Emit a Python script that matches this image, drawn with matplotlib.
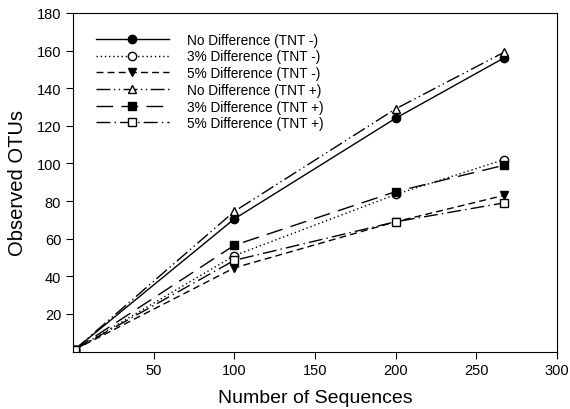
import matplotlib
matplotlib.use("Agg")
import matplotlib.pyplot as plt

plt.rcParams['font.family'] = ['Liberation Sans', 'DejaVu Sans']

x = [1, 100, 200, 267]
no_diff_minus = [1, 70.5, 124, 156]
diff3_minus = [1, 51, 83.5, 102]
diff5_minus = [1, 44.5, 69, 83]
no_diff_plus = [1, 74.5, 129, 159]
diff3_plus = [1, 56.5, 85, 99]
diff5_plus = [1, 48.5, 69, 79]

labels = ["No Difference (TNT -)", "3% Difference (TNT -)", "5% Difference (TNT -)",
          "No Difference (TNT +)", "3% Difference (TNT +)", "5% Difference (TNT +)"]

fig = plt.figure(figsize=(5.7, 4.1), dpi=100)
ax = fig.add_axes([0.128, 0.14, 0.849, 0.826])

lw = 1.0
ms = 6
ax.plot(x, no_diff_minus, color='black', lw=lw, ls='-', marker='o', ms=ms,
        mfc='black', mec='black', label=labels[0])
ax.plot(x, diff3_minus, color='black', lw=lw, ls=(0, (1, 2)), marker='o', ms=ms,
        mfc='white', mec='black', label=labels[1])
ax.plot(x, diff5_minus, color='black', lw=lw, ls=(0, (5, 3)), marker='v', ms=ms,
        mfc='black', mec='black', label=labels[2])
ax.plot(x, no_diff_plus, color='black', lw=lw, ls=(0, (10, 2.5, 1, 2.5, 1, 2.5)), marker='^', ms=ms,
        mfc='white', mec='black', label=labels[3])
ax.plot(x, diff3_plus, color='black', lw=lw, ls=(0, (12, 6)), marker='s', ms=ms - 0.5,
        mfc='black', mec='black', label=labels[4])
ax.plot(x, diff5_plus, color='black', lw=lw, ls=(0, (10, 3, 1, 3)), marker='s', ms=ms - 0.5,
        mfc='white', mec='black', label=labels[5])

ax.set_xlim(0, 300)
ax.set_ylim(0, 180)
ax.set_xticks([50, 100, 150, 200, 250, 300])
ax.set_yticks([20, 40, 60, 80, 100, 120, 140, 160, 180])
ax.tick_params(direction='out', length=5, width=0.8, labelsize=10.5, colors='black')
for s in ax.spines.values():
    s.set_linewidth(0.8)

ax.set_xlabel("Number of Sequences", fontsize=14, labelpad=8)
ax.set_ylabel("Observed OTUs", fontsize=14.5, labelpad=7)

ax.legend(loc='upper left', bbox_to_anchor=(0.03, 0.966), frameon=False, fontsize=9.8,
          handlelength=5.4, handletextpad=1.3, numpoints=1, labelspacing=0.2,
          borderaxespad=0.2)

fig.savefig("out.png", dpi=100)
